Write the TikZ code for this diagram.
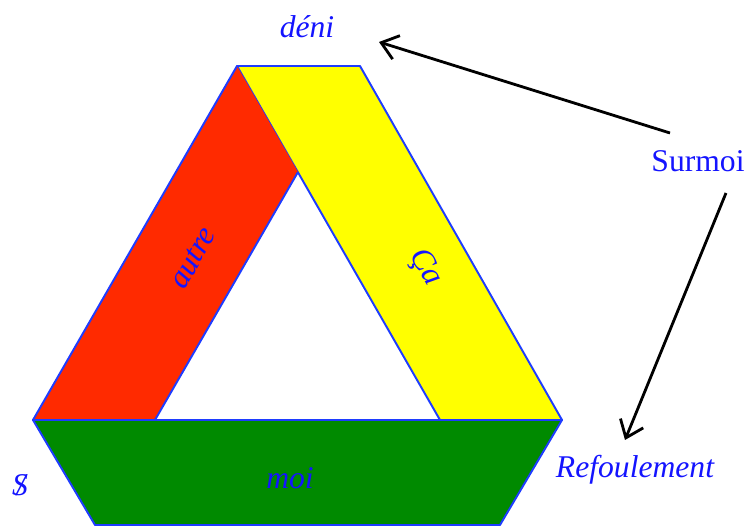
\documentclass[tikz,border=0pt]{standalone}
\usepackage{fontspec}
\setmainfont{Liberation Serif}
\usetikzlibrary{arrows.meta}

\definecolor{bandred}{RGB}{255,42,0}
\definecolor{bandyellow}{RGB}{255,255,0}
\definecolor{bandgreen}{RGB}{0,138,0}
\definecolor{edgeblue}{RGB}{30,60,255}
\definecolor{textblue}{RGB}{20,20,255}

\tikzset{
  band/.style={draw=edgeblue, line width=1.1pt, line join=round},
  lbl/.style={text=textblue, font=\fontsize{18}{20}\selectfont\itshape, inner sep=1pt},
  pointer/.style={draw=black, line width=1.6pt, -{Straight Barb[length=9pt,width=14pt,line width=1.6pt]}}
}

\begin{document}
\begin{tikzpicture}[x=0.02cm,y=-0.02cm]
	\useasboundingbox (0,0) rectangle (748,526);

	\fill[bandyellow] (237,66) -- (360,66) -- (562,420) -- (440,420) -- cycle;
	\draw[band] (237,66) -- (360,66) -- (562,420) -- (440,420) -- cycle;

	\fill[bandred] (237,66) -- (33,420) -- (155,420) -- (298,172) -- cycle;
	\draw[band] (237,66) -- (33,420) -- (155,420) -- (298,172);

	\fill[bandgreen] (33,420) -- (562,420) -- (500,525) -- (95,525) -- cycle;
	\draw[band] (33,420) -- (562,420) -- (500,525) -- (95,525) -- cycle;

	\node[lbl] (deni) at (307,27) {déni};
	\node[lbl, font=\fontsize{18}{20}\selectfont\upshape] (surmoi) at (698,161) {Surmoi};
	\node[lbl, rotate=60] (autre) at (193,258) {autre};
	\node[lbl, rotate=-60] (ca) at (425,268) {Ça};
	\node[lbl] (moi) at (290,478) {moi};
	\node[lbl] (sujet) at (20,485) {S\llap{/\kern0.08em}};
	\node[lbl] (refoul) at (635,470) {Refoulement};

	\coordinate (surmoiA) at (670,133);
	\coordinate (deniTip) at (379,42);
	\coordinate (surmoiB) at (726,193);
	\coordinate (refoulTip) at (625,440);

	\draw[pointer] (surmoiA) -- (deniTip);
	\draw[pointer] (surmoiB) -- (refoulTip);
\end{tikzpicture}
\end{document}
